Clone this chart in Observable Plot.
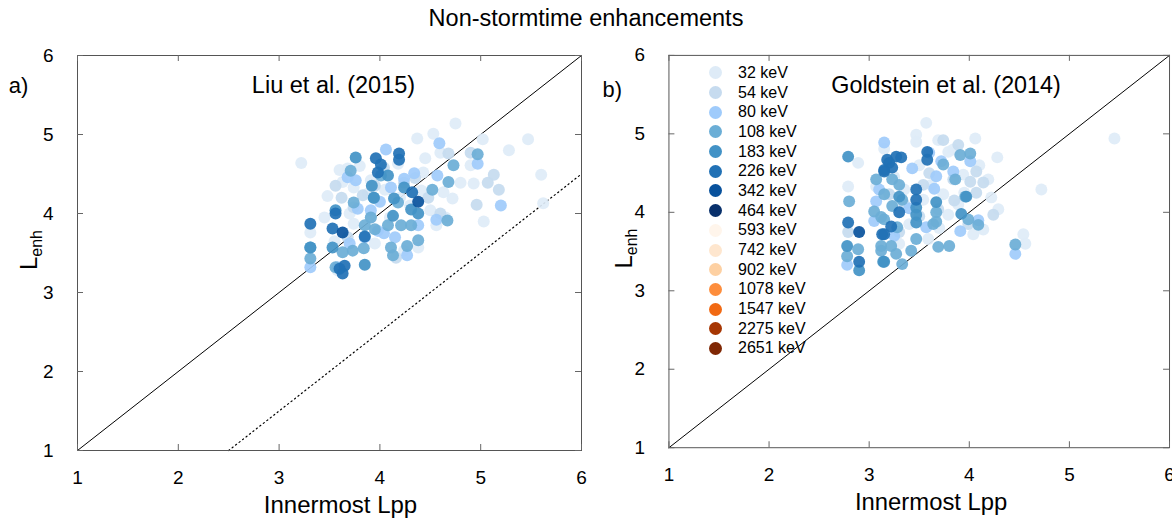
<!DOCTYPE html>
<html><head><meta charset="utf-8">
<script src="https://cdn.jsdelivr.net/npm/d3@7"></script>
<script src="https://cdn.jsdelivr.net/npm/@observablehq/plot@0.6"></script>
<style>
body{margin:0;width:1172px;height:518px;overflow:hidden;background:#fff;font-family:"Liberation Sans",Arial,sans-serif;position:relative;}
#title{position:absolute;left:0;top:0;width:1172px;height:36px;text-align:center;font-size:23.5px;line-height:36px;}
#left{position:absolute;left:0;top:40px;}
#right{position:absolute;left:586px;top:40px;}
#legend{position:absolute;left:709px;top:63px;font-size:16px;}
#legend .row{height:19.7px;display:flex;align-items:center;}
#legend .sw{width:13px;height:13px;border-radius:50%;margin-right:16px;}
</style></head>
<body>
<div id="title">Non-stormtime enhancements</div>
<div id="left"></div>
<div id="right"></div>
<div id="legend"></div>
<script>
const energies = [32,54,80,108,183,226,342,464,593,742,902,1078,1547,2275,2651];
const energyLabels = energies.map(e => `${e} keV`);
const palette = ["#deebf7","#c6dbef","#9fcbfb","#6baed6","#4292c6","#2171b5","#08519c","#08306b",
                 "#fff5eb","#fee6ce","#fdd0a2","#fd8d3c","#f16913","#a63603","#7f2704"];
const axisTicks = [1,2,3,4,5,6];
const identityLine = [1,6];
const dottedOffset = 1.5; // left-panel dotted reference: Lenh = Lpp - 1.5

// [energy keV, innermost Lpp, Lenh] — Liu et al. (2015)
const liuPoints = [
 [32,3.22,4.64],[32,4.75,5.14],[32,4.53,5.01],[32,4.37,4.95],[32,5.47,4.94],[32,5.28,4.80],[32,5.02,4.94],[32,5.60,4.49],
 [32,5.62,4.13],[32,5.03,3.90],[32,4.80,4.39],[32,4.93,4.38],[32,4.72,4.19],[32,4.63,4.27],[32,3.48,4.22],[32,3.63,4.40],
 [32,3.31,3.76],[32,4.38,3.57],[32,3.68,4.57],[32,3.58,3.28],[32,4.56,3.85],[32,4.43,4.52],[32,3.91,4.42],[32,4.18,4.63],
 [32,3.74,4.33],[32,3.88,4.25],[32,4.41,4.29],[32,4.50,4.04],[32,4.90,4.61],[32,4.60,4.77],[32,4.24,3.53],[32,3.74,3.87],
 [32,3.95,3.62],[32,4.30,4.10],[32,3.60,4.55],[32,4.05,4.30],[32,4.20,4.20],[32,3.80,4.60],[32,4.45,4.70],[32,4.10,3.95],
 [32,3.45,3.95],[32,4.65,3.95],[32,3.70,4.00],[32,3.55,3.65],
 [54,5.13,4.49],[54,5.07,4.39],[54,5.18,4.30],[54,4.96,4.11],[54,3.56,4.35],[54,4.68,4.76],[54,4.90,4.77],[54,3.83,4.23],
 [54,4.04,4.58],[54,4.24,4.39],[54,4.48,4.20],[54,3.74,4.08],[54,3.91,3.95],[54,4.16,3.44],[54,3.68,3.70],[54,4.60,4.00],
 [54,3.95,4.35],[54,4.35,4.45],[54,3.62,4.20],
 [80,4.59,4.89],[80,4.06,4.81],[80,4.97,4.63],[80,5.20,4.10],[80,4.56,3.92],[80,4.27,3.47],[80,3.76,4.42],[80,4.34,4.51],
 [80,4.57,4.48],[80,4.24,4.44],[80,3.78,4.06],[80,3.98,3.78],[80,3.58,3.32],[80,3.31,3.32],[80,4.04,3.75],[80,3.91,4.04],
 [80,4.38,3.85],[80,4.11,4.33],[80,3.68,4.46],[80,3.85,3.70],[80,4.15,3.70],[80,3.70,3.62],[80,4.00,4.15],
 [108,4.97,4.75],[108,4.73,4.61],[108,4.68,4.40],[108,4.52,4.30],[108,4.67,3.91],[108,4.38,3.66],[108,4.27,3.59],[108,4.13,3.47],
 [108,4.11,3.57],[108,3.71,4.54],[108,3.74,4.14],[108,3.73,3.53],[108,3.63,3.51],[108,3.84,3.56],[108,3.56,3.32],[108,3.31,3.43],
 [108,3.31,3.57],[108,4.08,3.85],[108,4.21,3.85],[108,4.31,3.85],[108,3.91,3.95],[108,3.94,4.20],[108,4.18,4.14],[108,4.01,4.48],
 [108,3.85,3.85],[108,3.95,3.80],
 [183,3.76,4.71],[183,4.08,4.48],[183,3.92,4.35],[183,3.94,4.20],[183,4.13,3.97],[183,4.31,4.05],[183,4.38,4.00],[183,4.24,4.33],
 [183,3.31,3.57],[183,3.53,3.57],[183,3.85,3.35],[183,3.56,4.04],[183,4.14,4.19],
 [226,4.19,4.76],[226,4.19,4.68],[226,3.96,4.70],[226,4.01,4.62],[226,3.98,4.52],[226,3.31,3.87],[226,3.56,4.00],[226,3.53,3.81],
 [226,3.85,3.71],[226,3.65,3.34],[226,3.63,3.24],[226,4.32,4.27],[226,3.60,3.30],
 [342,3.63,3.76],[342,4.38,4.15]
];

// [energy keV, innermost Lpp, Lenh] — Goldstein et al. (2014)
const goldsteinPoints = [
 [32,2.89,4.63],[32,2.79,4.33],[32,3.15,4.81],[32,3.07,4.33],[32,3.57,5.14],[32,3.47,4.99],[32,3.47,4.90],[32,3.79,4.77],
 [32,4.06,4.94],[32,4.28,4.70],[32,4.22,4.19],[32,4.72,4.29],[32,5.45,4.94],[32,4.54,3.72],[32,4.56,3.60],[32,3.69,4.92],
 [32,3.84,4.80],[32,3.94,4.48],[32,4.19,4.42],[32,4.29,4.04],[32,4.14,3.78],[32,3.74,4.23],[32,3.54,4.16],[32,3.35,4.29],
 [32,3.62,4.35],[32,3.89,4.10],[32,3.79,3.97],[32,4.04,3.72],[32,3.59,3.66],[32,3.40,3.85],[32,3.25,4.45],[32,4.10,4.60],
 [32,3.50,4.60],[32,3.95,4.25],[32,3.70,3.80],[32,3.30,3.60],
 [54,2.79,3.75],[54,4.07,4.52],[54,4.14,4.38],[54,4.01,4.39],[54,4.07,4.25],[54,3.74,4.92],[54,3.89,4.86],[54,3.84,4.42],
 [54,3.54,4.35],[54,3.69,4.04],[54,3.99,3.85],[54,3.35,4.10],[54,4.24,3.97],[54,3.20,4.23],[54,3.50,3.95],[54,3.30,3.75],
 [54,3.60,4.50],[54,3.85,4.15],
 [80,2.78,3.33],[80,3.15,4.89],[80,3.10,4.29],[80,3.07,4.14],[80,3.05,3.89],[80,3.72,4.65],[80,3.43,4.56],[80,3.84,4.52],
 [80,3.67,4.46],[80,3.65,4.30],[80,3.57,3.81],[80,3.91,3.76],[80,4.01,4.65],[80,4.09,3.90],[80,4.46,3.47],[80,3.60,4.76],
 [80,3.25,3.70],[80,3.40,4.05],
 [108,2.80,4.14],[108,2.78,3.44],[108,2.89,3.53],[108,3.07,4.42],[108,3.15,4.23],[108,3.05,4.01],[108,3.12,3.94],[108,3.12,3.57],
 [108,3.12,3.51],[108,3.74,4.61],[108,3.86,4.42],[108,3.67,4.00],[108,3.64,3.85],[108,3.28,3.81],[108,3.47,3.66],[108,3.22,3.57],
 [108,3.27,3.47],[108,3.33,3.34],[108,3.42,3.51],[108,3.69,3.56],[108,3.80,3.57],[108,3.96,4.20],[108,3.91,4.73],[108,3.30,4.35],
 [108,3.23,4.42],[108,3.33,4.16],[108,3.23,4.08],[108,3.15,3.91],[108,3.67,3.88],[108,4.01,4.75],[108,4.09,3.84],[108,3.99,3.91],
 [108,4.46,3.59],
 [183,2.79,4.71],[183,2.78,3.57],[183,2.90,3.26],[183,3.14,3.37],[183,3.47,4.06],[183,3.47,3.97],[183,3.47,3.87],[183,3.67,4.13],
 [183,3.15,3.37],[183,3.92,3.98],[183,3.97,4.20],[183,3.30,4.20],
 [226,2.79,3.87],[226,2.90,3.37],[226,3.15,4.54],[226,3.13,3.72],[226,3.18,4.67],[226,3.27,4.71],[226,3.32,4.70],[226,3.20,4.63],
 [226,3.23,4.57],[226,3.15,4.52],[226,3.58,4.77],[226,3.58,4.67],[226,3.47,4.29],[226,3.47,4.16],[226,3.30,4.00],[226,3.22,3.82],
 [226,3.15,3.72],
 [342,2.90,3.75]
];

const H = 478, MT = 15, MB = 68;
const FRAME_H = H - MT - MB;
const FONT = "Liberation Sans, Arial, Helvetica, sans-serif";

function panel({points, width, marginLeft, marginRight, title, titleDx, labelDx, tag, tagDx, tagDy, dotted}) {
  const frameW = width - marginLeft - marginRight;
  const rows = points.map(([e, x, y]) => ({energy: `${e} keV`, x, y}));
  const marks = [
    Plot.line(identityLine, {x: d => d, y: d => d, stroke: "#000", strokeWidth: 1}),
  ];
  if (dotted) {
    marks.push(Plot.line([1 + dottedOffset, 6], {x: d => d, y: d => d - dottedOffset, stroke: "#000", strokeWidth: 1.2, strokeDasharray: "1.2,3.2"}));
  }
  marks.push(
    Plot.dot(rows, {x: "x", y: "y", fill: "energy", r: 6, fillOpacity: 0.92, stroke: "none"}),
    Plot.frame({stroke: "#555", strokeWidth: 1}),
    Plot.tickX(axisTicks, {x: d => d, insetTop: FRAME_H - 6, stroke: "#666"}),
    Plot.tickX(axisTicks, {x: d => d, insetBottom: FRAME_H - 6, stroke: "#666"}),
    Plot.tickY(axisTicks, {y: d => d, insetRight: frameW - 6, stroke: "#666"}),
    Plot.tickY(axisTicks, {y: d => d, insetLeft: frameW - 6, stroke: "#666"}),
    Plot.axisX({ticks: axisTicks, tickSize: 0, tickPadding: 20, label: null, tickFormat: d => d}),
    Plot.axisY({ticks: axisTicks, tickSize: 0, tickPadding: 24, label: null, tickFormat: d => d}),
    Plot.text(["Innermost Lpp"], {frameAnchor: "bottom", dx: labelDx, dy: 55, fontSize: 24, lineAnchor: "middle"}),
    Plot.text([title], {frameAnchor: "top", dx: titleDx, dy: 30, fontSize: 23.5, lineAnchor: "middle"}),
    Plot.text([tag], {frameAnchor: "top-left", dx: tagDx, dy: tagDy, fontSize: 22, lineAnchor: "middle", textAnchor: "middle"})
  );
  const svg = Plot.plot({
    width, height: H, marginTop: MT, marginBottom: MB, marginLeft, marginRight,
    x: {domain: [1, 6]},
    y: {domain: [1, 6]},
    color: {domain: energyLabels, range: palette, type: "ordinal"},
    clip: false,
    style: {fontFamily: FONT, fontSize: "19px", color: "#000", background: "transparent", overflow: "visible"},
    marks
  });
  return svg;
}

function addYLabel(svg, x) {
  const t = d3.select(svg).append("text")
    .attr("transform", `translate(${x},210) rotate(-90)`)
    .attr("text-anchor", "middle")
    .attr("font-family", FONT)
    .attr("font-size", 24)
    .attr("fill", "#000");
  t.append("tspan").text("L");
  t.append("tspan").attr("font-size", 16).attr("dy", 5).text("enh");
}

const left = panel({points: liuPoints, width: 586, marginLeft: 77, marginRight: 5,
  title: "Liu et al. (2015)", titleDx: 4, labelDx: 11, tag: "a)", tagDx: -59, tagDy: 30, dotted: true});
addYLabel(left, 37);
document.getElementById("left").append(left);

const right = panel({points: goldsteinPoints, width: 590, marginLeft: 83, marginRight: 3,
  title: "Goldstein et al. (2014)", titleDx: 27, labelDx: 12, tag: "b)", tagDx: -57, tagDy: 35, dotted: false});
addYLabel(right, 46);
document.getElementById("right").append(right);

const legend = d3.select("#legend");
energyLabels.forEach((lab, i) => {
  const row = legend.append("div").attr("class", "row");
  row.append("div").attr("class", "sw").style("background", palette[i]);
  row.append("span").text(lab);
});
</script>
</body></html>
